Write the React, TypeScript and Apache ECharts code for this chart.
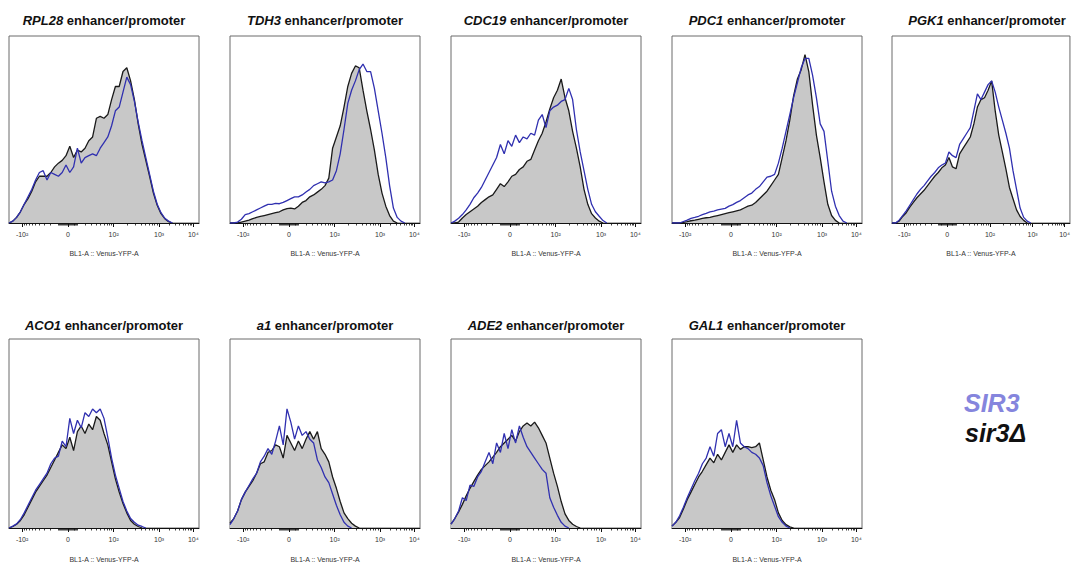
import React, { useEffect, useRef } from "react";
import * as echarts from "echarts";

// ---------- labels ----------
const GENES = ["RPL28", "TDH3", "CDC19", "PDC1", "PGK1", "ACO1", "a1", "ADE2", "GAL1"];
const TITLE_SUFFIX = " enhancer/promoter";
const X_AXIS_NAME = "BL1-A :: Venus-YFP-A";
const TICK_VALUES = [-100, 0, 100, 1000, 10000];
const TICK_LABELS = ["-10²", "0", "10²", "10³", "10⁴"];
const LEGEND_WT = "SIR3";
const LEGEND_DEL = "sir3Δ";

// histogram bin width in display (channel) units; display axis runs 0..100
const BIN_WIDTH = 2;

// ---------- data (normalized to mode, % of axis height) ----------
// sir3Δ = black line, grey fill ; SIR3 = blue line
const RPL28_DEL = [0, 1, 3, 6, 10, 13, 17, 22, 25, 25, 25, 27, 30, 32, 33.5, 36, 41, 35, 39, 38, 40, 44, 46, 56, 57, 56, 58, 66, 73, 73, 81, 83, 76, 66, 53, 42, 33.5, 25, 16, 9.5, 5, 2.3, 0.7, 0];
const RPL28_SIR3 = [0, 1, 3, 6, 10, 14, 18, 23, 27, 28, 23, 27, 26, 25, 27, 31, 27, 30, 40, 32, 35, 36, 37, 36, 40, 43, 46, 52, 60, 62, 70, 78, 74, 65, 54, 44, 35, 26, 17, 10, 5.5, 2.5, 1, 0];

const TDH3_DEL = [0, 0, 0, 0.5, 1, 1.5, 2.3, 3, 3.5, 4, 4.5, 5, 5.5, 6, 7, 7.7, 8, 7.5, 9, 11, 12, 14, 15, 16.5, 18, 20, 24, 40, 46, 52, 62, 73, 80, 84, 83, 71, 60, 50, 39, 26, 16, 9, 4, 1, 0];
const TDH3_SIR3 = [0, 0, 0.5, 2, 4.5, 5, 6, 7, 8, 9, 10, 10, 10.5, 10.3, 11, 12, 13, 14, 14, 15, 16.6, 18, 20, 21, 22, 21.5, 22, 23, 28, 37, 50, 64, 71, 76, 82, 85, 81, 81, 72, 60, 48, 35, 20, 8, 3, 1, 0];

const CDC19_DEL = [0, 0, 0.5, 2.7, 4.5, 6, 7.5, 9, 11, 12.5, 14, 15, 18, 21, 19.5, 22, 25, 26, 28.6, 30, 33, 34, 39, 44, 48, 54, 61, 67, 71, 77, 67, 60, 49, 40, 30, 18, 10, 5, 2.7, 1, 0];
const CDC19_SIR3 = [0, 1, 2.5, 4.5, 7, 10, 13.5, 16, 19, 23, 27, 31, 35, 42, 37, 44, 41, 47, 43, 46, 45, 48, 47, 55, 58, 51, 60, 62, 63, 65, 66, 72, 66, 50, 38, 28, 18, 10, 6, 3.6, 1.3, 0];

const PDC1_DEL = [0, 0, 0, 0.3, 0.7, 1.2, 1.5, 2, 2.5, 2.8, 3, 3.5, 4, 4.5, 5, 5.5, 6, 6.5, 7, 8, 9, 9.5, 11, 13, 15, 17, 20, 23, 26, 35, 44, 55, 68, 77, 82, 90, 81, 63, 47, 35, 22, 10, 4, 1.4, 0];
const PDC1_SIR3 = [0, 0, 0, 0.8, 1.5, 2.5, 3, 3.6, 4.5, 5.2, 6, 6.4, 7, 7.4, 7.8, 9, 9.8, 11, 12, 13.5, 15, 16, 18, 19.5, 22, 24.5, 25, 26, 32, 40, 49, 58, 67, 75, 83, 88, 88, 79, 67, 53, 49, 33, 17, 9, 4, 1, 0];

const PGK1_DEL = [0, 0, 1, 3.5, 5.5, 8.5, 11, 13.5, 15.5, 17.5, 20, 22.5, 25, 27, 29.5, 31, 35, 30, 29, 37, 40, 43, 46, 53, 62, 66, 67, 71, 76, 60, 47, 38, 29, 19, 13, 7, 3.5, 1.4, 0];
const PGK1_SIR3 = [0, 0, 1.5, 4, 6.5, 9.5, 12.5, 15.5, 18, 20, 22.5, 25, 27, 29.5, 31, 32, 38, 36, 35, 42, 45, 48, 51, 60, 69, 66, 70, 74, 76, 70, 62, 55, 48, 40, 28, 18, 8, 3, 1, 0];

const ACO1_DEL = [0, 0.8, 2, 4, 7, 11, 15, 19, 22, 25, 28, 32, 36, 40, 44, 42, 48, 41, 51, 54, 50, 55, 52, 59, 57, 50, 44, 35, 26, 19, 13, 8, 4, 2, 0.8, 0];
const ACO1_SIR3 = [0, 1, 2.2, 4.5, 8, 12, 16, 20, 23, 26, 29, 34, 37, 38, 46, 43, 58, 50, 57, 53, 61, 59, 63, 61, 63, 58, 48, 37, 28, 21, 14, 9, 5, 3, 1.5, 0.8, 0];

const A1_DEL = [2.5, 5, 9, 15, 19, 22, 25, 29, 34, 35, 40, 41, 44, 43, 37, 49, 45, 41, 46, 42, 47, 51, 47, 51, 42, 39, 35, 27, 21, 14, 8, 5, 2.5, 1, 0];
const A1_SIR3 = [1.8, 5, 9, 15, 19, 22.5, 26, 29, 35, 38, 42, 39, 46, 54, 44, 63, 56, 47, 54, 49, 51, 47, 45, 36, 32, 27, 24, 18, 12, 7, 3, 1, 0];

const ADE2_DEL = [2, 5, 8.5, 12.5, 17, 21, 24.5, 28, 31, 33, 35, 37.5, 40, 43, 45, 47, 49, 46, 51, 54, 55.6, 54, 56, 53, 49, 45, 37, 29, 22, 14, 7.5, 4, 2, 0.8, 0];
const ADE2_SIR3 = [2, 5, 9, 16, 14.5, 22.7, 22, 27, 30, 35, 40, 34, 45, 40, 50, 42, 52, 45, 54, 48, 43, 40, 37, 34, 31, 29, 16, 11, 6.7, 3, 1, 0];

const GAL1_DEL = [1, 3, 5.5, 10, 15, 19, 23, 27, 30, 33.5, 37, 34.5, 39, 36, 40, 44, 40, 44, 41.6, 43, 43, 42.5, 43, 45, 36, 27, 20, 15, 8, 4, 1.8, 0.6, 0];
const GAL1_SIR3 = [1, 3, 6.5, 11, 16, 20.5, 25, 29, 34, 37, 43, 38, 50, 52, 43, 50, 43, 57, 45, 43, 42, 40, 39, 37, 33, 24, 17, 11.5, 6, 3, 1, 0];

const DEL_SERIES = [RPL28_DEL, TDH3_DEL, CDC19_DEL, PDC1_DEL, PGK1_DEL, ACO1_DEL, A1_DEL, ADE2_DEL, GAL1_DEL];
const WT_SERIES = [RPL28_SIR3, TDH3_SIR3, CDC19_SIR3, PDC1_SIR3, PGK1_SIR3, ACO1_SIR3, A1_SIR3, ADE2_SIR3, GAL1_SIR3];

// ---------- layout / style ----------
const COL_LEFT = [9, 230, 451, 672, 892];
const ROW_TOP = [36, 339];
const ROW_H = [187, 189];
const TITLE_OFFSET = [22.5, 20];
const NAME_GAP = [27, 28];
const PANEL_W = 190;
const FONT = "'Liberation Sans', Arial, sans-serif";
const BLUE = "#3030b0";
const BLACK = "#1a1a1a";
const FILL = "#c8c8c8";
const LEGEND_BLUE = "#8585dd";

// biexponential-like display transform (data value -> display channel 0..100)
function toDisplay(v: number): number {
  if (v <= 1000) return 31 + 10.42 * Math.asinh(v / 20);
  return 79 + 18 * Math.log10(v / 1000);
}

function buildTickValues(): number[] {
  const vals: number[] = [];
  for (let k = 1; k <= 9; k++) {
    vals.push(-k * 10, -k, k, k * 10, k * 100, k * 1000);
  }
  return vals.map(toDisplay).filter((p) => p >= 0 && p <= 100);
}

const MAJOR_POS = TICK_VALUES.map(toDisplay);
const MINOR_POS = buildTickValues();

export default function App() {
  const ref = useRef<HTMLDivElement>(null);

  useEffect(() => {
    if (!ref.current) return;
    const chart = echarts.init(ref.current, null, { renderer: "svg" });

    const grids: any[] = [];
    const xAxes: any[] = [];
    const yAxes: any[] = [];
    const series: any[] = [];
    const titles: any[] = [];

    GENES.forEach((gene, g) => {
      const row = g < 5 ? 0 : 1;
      const col = g < 5 ? g : g - 5;
      const left = COL_LEFT[col];
      const top = ROW_TOP[row];

      grids.push({
        left,
        top,
        width: PANEL_W,
        height: ROW_H[row],
        show: true,
        borderColor: "#6a6a6a",
        borderWidth: 1,
        backgroundColor: "transparent",
        containLabel: false,
      });

      xAxes.push({
        gridIndex: g,
        type: "value",
        min: 0,
        max: 100,
        position: "bottom",
        axisLine: { show: true, onZero: false, lineStyle: { color: "#111", width: 1 } },
        axisTick: { show: true, length: 2.5, customValues: MINOR_POS, lineStyle: { color: "#111", width: 0.8 } },
        axisLabel: {
          show: true,
          customValues: MAJOR_POS,
          formatter: (v: number) => {
            const i = MAJOR_POS.findIndex((p) => Math.abs(p - v) < 0.01);
            return i >= 0 ? TICK_LABELS[i] : "";
          },
          fontSize: 7,
          fontFamily: FONT,
          color: "#333",
          margin: 8,
        },
        splitLine: { show: false },
        name: X_AXIS_NAME,
        nameLocation: "middle",
        nameGap: NAME_GAP[row],
        nameTextStyle: { fontSize: 7, fontFamily: FONT, color: "#333" },
      });
      xAxes.push({
        gridIndex: g,
        type: "value",
        min: 0,
        max: 100,
        position: "bottom",
        axisLine: { show: false },
        axisTick: { show: true, length: 4, customValues: MAJOR_POS, lineStyle: { color: "#111", width: 1 } },
        axisLabel: { show: false },
        splitLine: { show: false },
      });
      yAxes.push({ gridIndex: g, type: "value", min: 0, max: 100, show: false });

      series.push({
        type: "line",
        name: LEGEND_DEL,
        xAxisIndex: 2 * g,
        yAxisIndex: g,
        data: DEL_SERIES[g].map((y, i) => [i * BIN_WIDTH, y]),
        symbol: "none",
        lineStyle: { color: BLACK, width: 1.3 },
        areaStyle: { color: FILL, opacity: 1 },
        z: 2,
      });
      series.push({
        type: "line",
        name: LEGEND_WT,
        xAxisIndex: 2 * g,
        yAxisIndex: g,
        data: WT_SERIES[g].map((y, i) => [i * BIN_WIDTH, y]),
        symbol: "none",
        lineStyle: { color: BLUE, width: 1.3 },
        z: 3,
      });

      titles.push({
        text: `{g|${gene}}${TITLE_SUFFIX}`,
        left: left + PANEL_W / 2,
        top: top - TITLE_OFFSET[row],
        textAlign: "center",
        padding: 0,
        textStyle: {
          fontSize: 13,
          fontWeight: "bold",
          fontFamily: FONT,
          color: "#111",
          rich: {
            g: { fontSize: 13, fontWeight: "bold", fontStyle: "italic", fontFamily: FONT, color: "#111" },
          },
        },
      });
    });

    chart.setOption({
      animation: false,
      backgroundColor: "#ffffff",
      title: titles,
      grid: grids,
      xAxis: xAxes,
      yAxis: yAxes,
      series,
      graphic: [
        {
          type: "text",
          left: 964,
          top: 390,
          style: { text: LEGEND_WT, fill: LEGEND_BLUE, font: `italic bold 25px ${FONT}` },
        },
        {
          type: "text",
          left: 965,
          top: 420,
          style: { text: LEGEND_DEL, fill: "#111", font: `italic bold 25px ${FONT}` },
        },
      ],
    });

    return () => chart.dispose();
  }, []);

  return (
    <div
      ref={ref}
      style={{ position: "fixed", left: 0, top: 0, width: 1073, height: 565, background: "#fff" }}
    />
  );
}
